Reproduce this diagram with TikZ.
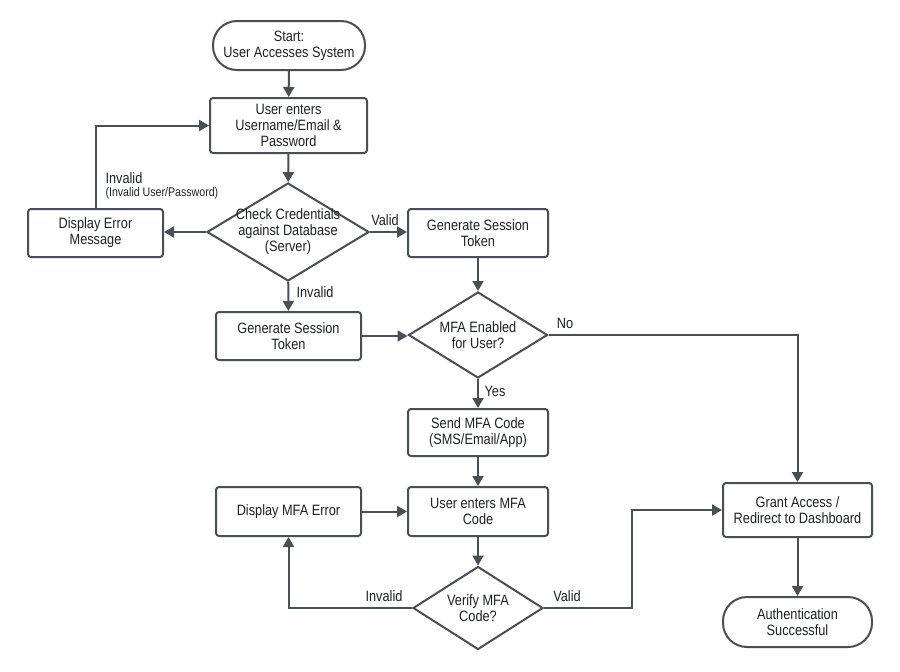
\documentclass[tikz,border=0pt]{standalone}
\usepackage{fontspec}
\setmainfont{Liberation Sans}[FakeStretch=0.85]
\usetikzlibrary{shapes.geometric,arrows.meta}
\definecolor{ln}{HTML}{4A4F55}
\definecolor{tx}{HTML}{1E2226}
\begin{document}
\begin{tikzpicture}[x=1pt,y=-1pt,
  box/.style={draw=ln, line width=2pt, rounded corners=3pt, fill=white, align=center,
    font=\fontsize{15}{16}\selectfont, text=tx, inner sep=0pt},
  pill/.style={box, rounded corners=24pt},
  dec/.style={diamond, draw=ln, line width=2pt, inner sep=0pt, fill=white},
  lbl/.style={font=\fontsize{15}{16}\selectfont, text=tx, align=center},
  smalllbl/.style={font=\fontsize{12.5}{14}\selectfont, text=tx},
  arr/.style={draw=ln, line width=2pt, -{Triangle[length=10pt,width=11pt]}}]
\useasboundingbox[fill=white] (0,0) rectangle (900,672);

\node[pill, minimum width=152, minimum height=49] (start) at (289,45.5) {Start:\\User Accesses System};
\node[box, minimum width=157, minimum height=55] (enter) at (288.5,125.5) {User enters\\Username/Email \&\\Password};
\node[dec, minimum width=162, minimum height=98,
  label={[lbl]center:{Check Credentials\\against Database\\(Server)}}] (chk) at (288,232) {};
\node[box, minimum width=135, minimum height=48] (err) at (95.5,233) {Display Error\\Message};
\node[box, minimum width=140, minimum height=48] (gstR) at (478,233) {Generate Session\\Token};
\node[box, minimum width=145, minimum height=48] (gstL) at (288.5,336) {Generate Session\\Token};
\node[dec, minimum width=139, minimum height=86,
  label={[lbl]center:{MFA Enabled\\for User?}}] (mfa) at (478,335) {};
\node[box, minimum width=140, minimum height=47] (send) at (478,432.5) {Send MFA Code\\(SMS/Email/App)};
\node[box, minimum width=140, minimum height=49] (umfa) at (478,511.5) {User enters MFA\\Code};
\node[box, minimum width=145, minimum height=49] (merr) at (288.5,511.5) {Display MFA Error};
\node[dec, minimum width=130, minimum height=83,
  label={[lbl]center:{Verify MFA\\Code?}}] (ver) at (478,608) {};
\node[box, minimum width=149, minimum height=54] (grant) at (797.5,510) {Grant Access /\\Redirect to Dashboard};
\node[pill, minimum width=149, minimum height=50] (auth) at (797.5,622) {Authentication\\Successful};

\coordinate (vv) at (632,608);

\draw[arr] (start) -- (enter);
\draw[arr] (enter) -- (chk);
\draw[arr] (chk.west) -- (chk.west -| err.east);
\draw[arr] (chk.east) -- (chk.east -| gstR.west);
\draw[arr] (chk) -- (gstL);
\draw[arr] (err.north) |- (enter.west);
\draw[arr] (gstR) -- (mfa);
\draw[arr] (gstL.east) -- (gstL.east -| mfa.west);
\draw[arr] (mfa.east) -| (grant.north);
\draw[arr] (mfa) -- (send);
\draw[arr] (send) -- (umfa);
\draw[arr] (merr) -- (umfa);
\draw[arr] (umfa) -- (ver);
\draw[arr] (ver.west) -| (merr.south);
\draw[arr] (ver.east) -- (vv) |- (grant.west);
\draw[arr] (grant) -- (auth);

\node[lbl, anchor=west] (l1) at (102,178) {Invalid};
\node[smalllbl, anchor=west] (l2) at (102,193) {(Invalid User/Password)};
\node[lbl] (l3) at (385,220) {Valid};
\node[lbl] (l4) at (315,292) {Invalid};
\node[lbl] (l5) at (565,323) {No};
\node[lbl] (l6) at (495,391) {Yes};
\node[lbl] (l7) at (384,596) {Invalid};
\node[lbl] (l8) at (567,596) {Valid};
\end{tikzpicture}
\end{document}
